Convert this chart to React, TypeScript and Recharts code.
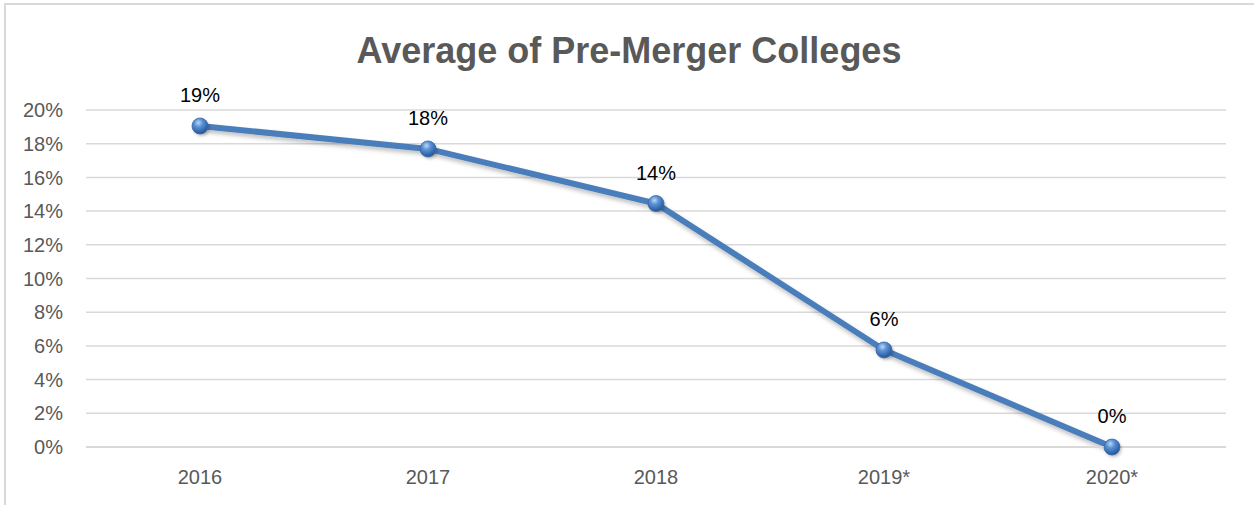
import React from "react";
import { LineChart, Line, XAxis, YAxis, CartesianGrid, LabelList } from "recharts";

const categories = ["2016", "2017", "2018", "2019*", "2020*"];
const shares = [0.1905, 0.1769, 0.1445, 0.0576, 0];
const yTicks = [0, 0.02, 0.04, 0.06, 0.08, 0.1, 0.12, 0.14, 0.16, 0.18, 0.2];
const title = "Average of Pre-Merger Colleges";

const data = categories.map((c, i) => ({ year: c, value: shares[i] }));

const FONT = "'Liberation Sans', Arial, sans-serif";

const pct = (v: number) => `${Math.round(v * 100)}%`;

const SphereDot = (props: any) => {
  const { cx, cy } = props;
  if (cx == null || cy == null) return null;
  return (
    <g>
      <circle cx={cx + 1.5} cy={cy + 2} r={8} fill="rgba(0,0,0,0.25)" filter="url(#blurShadow)" />
      <circle cx={cx} cy={cy} r={8} fill="url(#sphereGrad)" stroke="#3a6aa5" strokeWidth={0.8} />
    </g>
  );
};

export default function App() {
  return (
    <div style={{ position: "absolute", left: 0, top: 0, width: 1254, height: 505, background: "#fff", overflow: "hidden" }}>
      <div
        style={{
          position: "absolute",
          left: 4,
          top: 3,
          width: 1270,
          height: 520,
          border: "2px solid #d9d9d9",
          boxSizing: "border-box",
        }}
      />
      <div
        style={{
          position: "absolute",
          left: 0,
          top: 0,
          width: 1254,
          textAlign: "center",
          fontFamily: FONT,
          fontWeight: "bold",
          fontSize: 36,
          color: "#595959",
          lineHeight: "36px",
          paddingTop: 33,
          paddingLeft: 2,
        }}
      >
        {title}
      </div>
      <div style={{ position: "absolute", left: 0, top: 0 }}>
        <LineChart width={1254} height={505} data={data} margin={{ top: 110, right: 28, bottom: 28, left: 0 }}>
          <defs>
            <radialGradient id="sphereGrad" cx="40%" cy="30%" r="75%">
              <stop offset="0%" stopColor="#bcd6f5" />
              <stop offset="35%" stopColor="#5b92d6" />
              <stop offset="80%" stopColor="#2f62a8" />
              <stop offset="100%" stopColor="#244f8c" />
            </radialGradient>
            <filter id="blurShadow" x="-50%" y="-50%" width="200%" height="200%">
              <feGaussianBlur stdDeviation="1.5" />
            </filter>
            <filter id="lineShadow" x="-5%" y="-20%" width="110%" height="140%">
              <feDropShadow dx="1" dy="3" stdDeviation="2" floodColor="#000" floodOpacity="0.25" />
            </filter>
          </defs>
          <CartesianGrid vertical={false} stroke="#d9d9d9" strokeWidth={1.5} />
          <XAxis
            dataKey="year"
            height={30}
            padding={{ left: 114, right: 114 }}
            axisLine={{ stroke: "#d9d9d9", strokeWidth: 2 }}
            tickLine={false}
            tickSize={0}
            tickMargin={23}
            tick={{ fill: "#595959", fontSize: 20, fontFamily: FONT }}
            interval={0}
          />
          <YAxis
            width={86}
            domain={[0, 0.2]}
            ticks={yTicks}
            tickFormatter={pct}
            axisLine={false}
            tickLine={false}
            tickSize={0}
            tickMargin={23}
            interval={0}
            tick={{ fill: "#595959", fontSize: 20, fontFamily: FONT }}
          />
          <Line
            type="linear"
            dataKey="value"
            stroke="#4a7ebb"
            strokeWidth={6}
            filter="url(#lineShadow)"
            dot={<SphereDot />}
            activeDot={false}
            isAnimationActive={false}
          >
            <LabelList
              dataKey="value"
              position="top"
              offset={24}
              formatter={(v: any) => pct(Number(v))}
              style={{ fill: "#000", fontSize: 20, fontFamily: FONT }}
            />
          </Line>
        </LineChart>
      </div>
    </div>
  );
}
